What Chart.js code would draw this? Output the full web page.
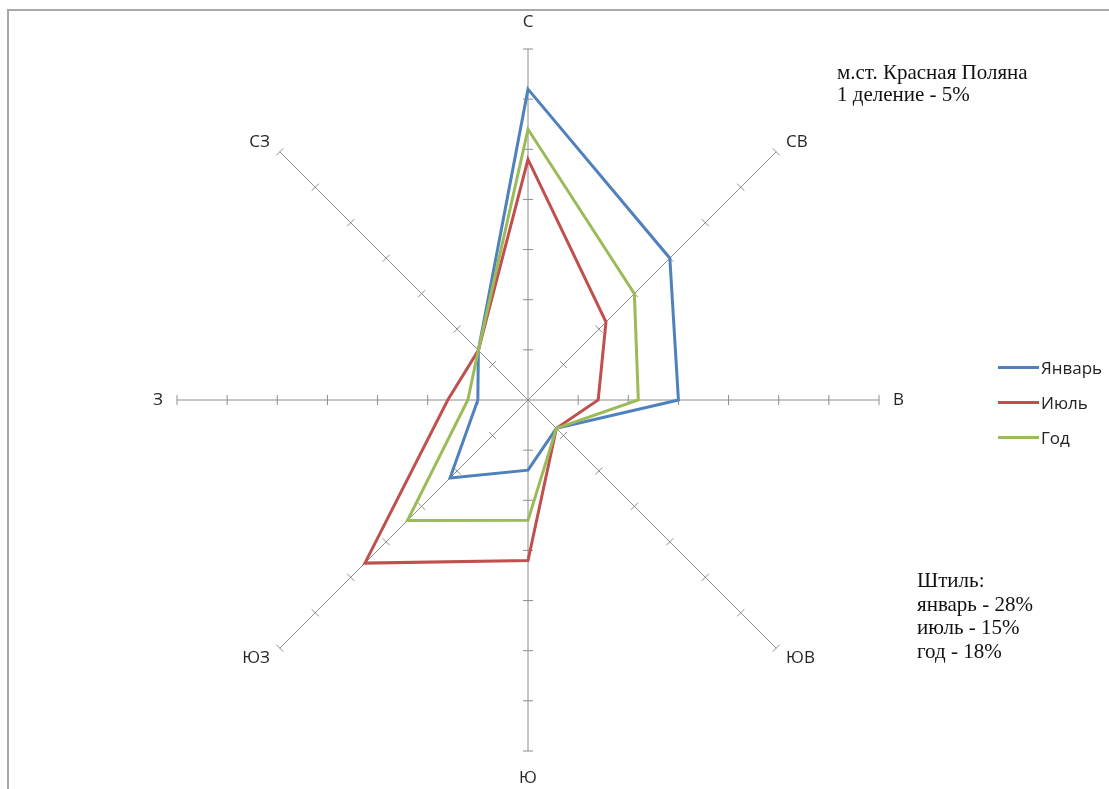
<!DOCTYPE html>
<html>
<head>
<meta charset="utf-8">
<script src="https://cdn.jsdelivr.net/npm/chart.js@4/dist/chart.umd.min.js"></script>
<style>
  html, body { margin: 0; padding: 0; background: #fff; overflow: hidden; }
  #wrap { position: relative; width: 1109px; height: 789px; }
  #frame { position: absolute; left: 7px; top: 9px; width: 1200px; height: 900px;
           border-top: 2px solid #a8a8a8; border-left: 2px solid #a8a8a8; }
  canvas { position: absolute; left: 0; top: 0; }
  .note { position: absolute; font-family: "Liberation Serif", serif; color: #111; white-space: nowrap; }
  #station { left: 837px; top: 61px; font-size: 21px; line-height: 22px; }
  #calm { left: 917px; top: 569px; font-size: 21px; line-height: 23.5px; }
  #legend { position: absolute; left: 998px; top: 350px; font-family: "Open Sans", sans-serif;
            font-size: 17px; color: #222; }
  #legend .row { height: 35px; display: flex; align-items: center; }
  #legend .swatch { width: 41px; height: 3px; margin-right: 2px; }
</style>
</head>
<body>
<div id="wrap">
  <div id="frame"></div>
  <canvas id="rose" width="1109" height="789"></canvas>
  <div class="note" id="station"></div>
  <div class="note" id="calm"></div>
  <div id="legend"></div>
</div>
<script>
// ---------------- данные ----------------
const directions = ['С', 'СВ', 'В', 'ЮВ', 'Ю', 'ЮЗ', 'З', 'СЗ'];
const january = [31, 20, 15, 4, 7, 11, 5, 7];
const july    = [24, 11, 7, 4, 16, 23, 8, 7];
const year    = [27, 15, 11, 4, 12, 17, 6, 7];
const seriesNames  = ['Январь', 'Июль', 'Год'];
const seriesColors = ['#4f81bd', '#c0504d', '#9bbb59'];
const tickValues = [5, 10, 15, 20, 25, 30, 35];
const stationLines = ['м.ст. Красная Поляна', '1 деление - 5%'];
const calmLines = ['Штиль:', 'январь - 28%', 'июль - 15%', 'год - 18%'];

// ---------------- засечки на осях + подписи направлений ----------------
const axisTicks = {
  id: 'axisTicks',
  beforeDatasetsDraw(chart) {
    const scale = chart.scales.r;
    const ctx = chart.ctx;
    ctx.save();
    ctx.strokeStyle = '#8c8c8c';
    ctx.lineWidth = 1;
    directions.forEach((d, i) => {
      const a = scale.getIndexAngle(i) - Math.PI / 2;
      const nx = -Math.sin(a), ny = Math.cos(a);
      tickValues.forEach(v => {
        const p = scale.getPointPosition(i, scale.getDistanceFromCenterForValue(v));
        ctx.beginPath();
        ctx.moveTo(p.x - nx * 5, p.y - ny * 5);
        ctx.lineTo(p.x + nx * 5, p.y + ny * 5);
        ctx.stroke();
      });
    });
    // подписи
    ctx.fillStyle = '#262626';
    ctx.font = '17px "Open Sans", sans-serif';
    ctx.textBaseline = 'middle';
    directions.forEach((d, i) => {
      const a = scale.getIndexAngle(i);
      const vertical = Math.abs(Math.sin(a)) < 0.01;
      const p = scale.getPointPosition(i, scale.drawingArea + (vertical ? 27 : 14));
      ctx.textAlign = vertical ? 'center' : (Math.sin(a) > 0 ? 'left' : 'right');
      ctx.fillText(d, p.x, p.y);
    });
    ctx.restore();
  }
};

const seriesData = [january, july, year];
const ctx = document.getElementById('rose').getContext('2d');
new Chart(ctx, {
  type: 'radar',
  data: {
    labels: directions,
    datasets: seriesNames.map((name, i) => ({
      label: name,
      data: seriesData[i],
      borderColor: seriesColors[i],
      backgroundColor: 'transparent',
      borderWidth: 3,
      pointRadius: 0,
      fill: false,
      tension: 0,
      order: seriesNames.length - i
    }))
  },
  options: {
    responsive: false,
    animation: false,
    devicePixelRatio: 1,
    layout: { padding: { left: 177, top: 49, right: 230, bottom: 38 } },
    plugins: { legend: { display: false }, tooltip: { enabled: false } },
    scales: {
      r: {
        min: 0,
        max: 35,
        ticks: { display: false, stepSize: 5 },
        grid: { display: false },
        angleLines: { display: true, color: '#8c8c8c', lineWidth: 1 },
        pointLabels: { display: false }
      }
    }
  },
  plugins: [axisTicks]
});

// ---------------- легенда и подписи ----------------
const legend = document.getElementById('legend');
seriesNames.forEach((name, i) => {
  const row = document.createElement('div');
  row.className = 'row';
  row.innerHTML = '<div class="swatch" style="background:' + seriesColors[i] + '"></div><span>' + name + '</span>';
  legend.appendChild(row);
});
document.getElementById('station').innerHTML = stationLines.join('<br>');
document.getElementById('calm').innerHTML = calmLines.join('<br>');
</script>
</body>
</html>
